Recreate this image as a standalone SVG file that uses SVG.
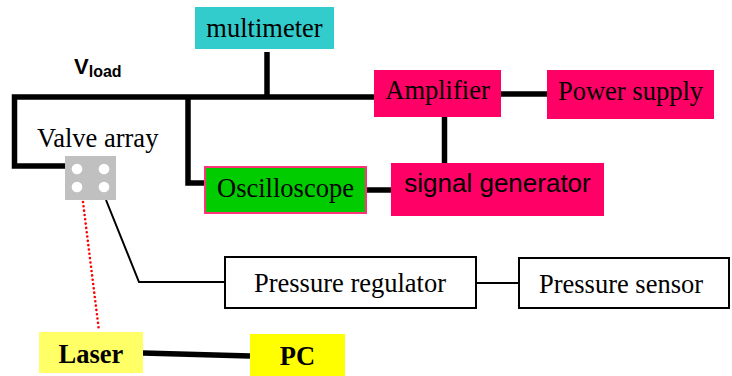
<svg xmlns="http://www.w3.org/2000/svg" width="732" height="376" viewBox="0 0 732 376">
<style>
.serif{font-family:"Liberation Serif","Times New Roman",serif;font-size:26.5px;fill:#000}
.sans{font-family:"Liberation Sans",Arial,sans-serif;fill:#000}
.bold{font-weight:bold}
.thick{fill:none;stroke:#000;stroke-width:5.5;stroke-linejoin:miter;stroke-linecap:butt}
.thin{fill:none;stroke:#000;stroke-width:2}
.outline{fill:#fff;stroke:#000;stroke-width:2}
.mag{fill:#FF0066}
</style>
<rect width="732" height="376" fill="#fff"/>
<g id="connectors">
  <polyline class="thick" points="374,97 14.5,97 14.5,166 65,166"/>
  <polyline class="thick" points="188,97 188,183 204,183"/>
  <line class="thick" x1="267" y1="52" x2="267" y2="97"/>
  <line class="thick" x1="501" y1="94" x2="547" y2="94"/>
  <line class="thick" x1="444.5" y1="117" x2="444.5" y2="163"/>
  <line class="thick" x1="367" y1="190" x2="391" y2="190"/>
  <line class="thick" x1="143" y1="353" x2="250" y2="356"/>
  <polyline class="thin" points="106,200 139,282 225,282"/>
  <line class="thin" x1="476" y1="283" x2="519" y2="283"/>
  <line x1="83" y1="202" x2="99" y2="331" stroke="#FF0000" stroke-width="2.6" stroke-linecap="round" stroke-dasharray="0 4.35"/>
</g>
<g id="vload">
  <text class="sans bold" x="74" y="74" font-size="22">V<tspan font-size="16" dy="3">load</tspan></text>
</g>
<g id="multimeter">
  <rect x="195" y="7" width="139" height="42" fill="#33CCCC"/>
  <text class="serif" x="264.5" y="37" text-anchor="middle">multimeter</text>
</g>
<g id="amplifier">
  <rect class="mag" x="374" y="70" width="127" height="47"/>
  <text class="serif" x="437.5" y="99" text-anchor="middle">Amplifier</text>
</g>
<g id="power-supply">
  <rect class="mag" x="547" y="70" width="167" height="49"/>
  <text class="serif" x="630.5" y="100" text-anchor="middle">Power supply</text>
</g>
<g id="valve-array">
  <text class="serif" x="37" y="147">Valve array</text>
  <rect x="65" y="156" width="51" height="44" fill="#C0C0C0"/>
  <circle cx="77" cy="169" r="5.3" fill="#fff"/>
  <circle cx="104" cy="169" r="5.3" fill="#fff"/>
  <circle cx="77" cy="187" r="5.3" fill="#fff"/>
  <circle cx="104" cy="187" r="5.3" fill="#fff"/>
</g>
<g id="oscilloscope">
  <rect x="205" y="167" width="161" height="46" fill="#00CC00" stroke="#FF3377" stroke-width="2"/>
  <text class="serif" x="285.5" y="197" text-anchor="middle">Oscilloscope</text>
</g>
<g id="signal-generator">
  <rect class="mag" x="391" y="163" width="213" height="53"/>
  <text class="sans" x="497.5" y="192" font-size="26" text-anchor="middle">signal generator</text>
</g>
<g id="pressure-regulator">
  <rect class="outline" x="225" y="257" width="251" height="51"/>
  <text class="serif" x="350" y="292" text-anchor="middle">Pressure regulator</text>
</g>
<g id="pressure-sensor">
  <rect class="outline" x="519" y="258" width="210" height="50"/>
  <text class="serif" x="621" y="293" text-anchor="middle">Pressure sensor</text>
</g>
<g id="laser">
  <rect x="39" y="332" width="104" height="41" fill="#FFFF66"/>
  <text class="serif bold" x="91" y="363" text-anchor="middle">Laser</text>
</g>
<g id="pc">
  <rect x="250" y="334" width="95" height="42" fill="#FFFF00"/>
  <text class="serif bold" x="297.5" y="365" font-size="27" text-anchor="middle">PC</text>
</g>
</svg>
